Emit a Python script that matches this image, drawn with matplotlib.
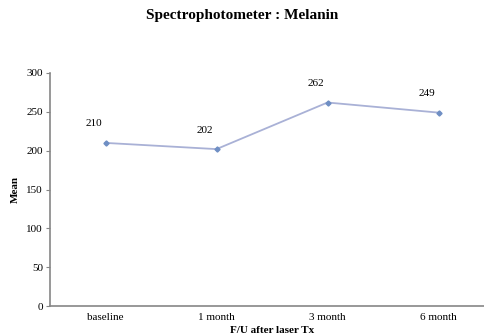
import matplotlib.pyplot as plt

# data
categories = ['baseline', '1 month', '3 month', '6 month']
means = [210, 202, 262, 249]
y_ticks = [0, 50, 100, 150, 200, 250, 300]

plt.rcParams['font.family'] = ['Liberation Serif', 'DejaVu Serif']

fig = plt.figure(figsize=(4.84, 3.36), dpi=100)
ax = fig.add_axes([50 / 484, 1 - 306 / 336, 444 / 484, 233 / 336])

x = [i + 0.5 for i in range(len(categories))]
ax.plot(x, means, color='#a9b1d6', linewidth=1.3, zorder=2)
ax.plot(x, means, linestyle='none', marker='D', markersize=2.6,
        color='#6f8fc4', zorder=3)

for xi, v in zip(x, means):
    ax.annotate(str(v), (xi, v), textcoords='offset pixels', xytext=(-12, 19),
                ha='center', va='center', fontsize=8)

ax.set_xlim(0, len(categories))
ax.set_ylim(0, 300)
ax.set_yticks(y_ticks)
ax.set_xticks(x)
ax.set_xticklabels(categories)
ax.tick_params(axis='y', labelsize=8, length=3, width=0.8, color='#868686', pad=2)
ax.tick_params(axis='x', labelsize=8, length=0, pad=5)

for side in ['top', 'right']:
    ax.spines[side].set_visible(False)
for side in ['left', 'bottom']:
    ax.spines[side].set_color('#868686')
    ax.spines[side].set_linewidth(1.2)

ax.set_ylabel('Mean', fontsize=8, fontweight='bold', labelpad=5)
ax.set_xlabel('F/U after laser Tx', fontsize=8, fontweight='bold', labelpad=3)
fig.text(242 / 484, 1 - 16 / 336, 'Spectrophotometer : Melanin',
         ha='center', va='center', fontsize=11, fontweight='bold')

fig.savefig('out.png', dpi=100)
